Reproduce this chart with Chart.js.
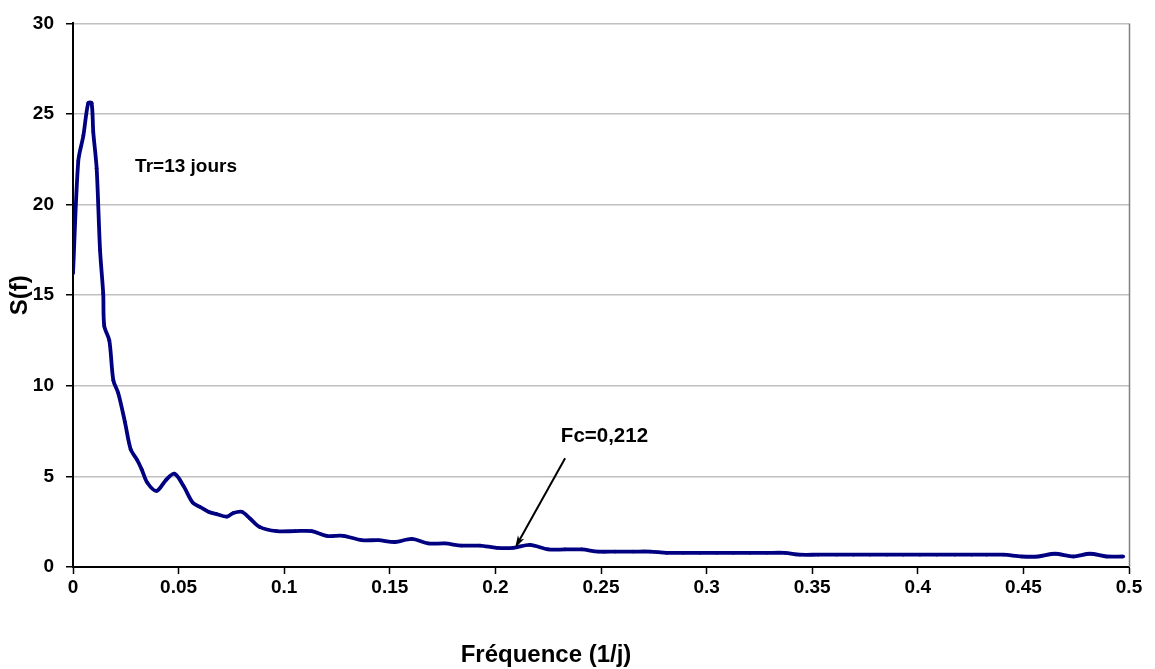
<!DOCTYPE html>
<html>
<head>
<meta charset="utf-8">
<script src="https://cdn.jsdelivr.net/npm/chart.js@4/dist/chart.umd.min.js"></script>
<style>
  html, body { margin: 0; padding: 0; background: #fff; }
  #wrap { width: 1155px; height: 669px; position: relative; }
</style>
</head>
<body>
<div id="wrap"><canvas id="spectre"></canvas></div>
<script>
// frequency (1/j) and spectral density S(f)
const freq = [
  0.000, 0.0025, 0.0049, 0.0072, 0.0088, 0.0096, 0.0112, 0.0128, 0.0143, 0.0148,
  0.0172, 0.0191, 0.0214, 0.0246, 0.0273, 0.0304, 0.0325, 0.0352, 0.0396, 0.0440,
  0.0480, 0.0522, 0.0567, 0.0601, 0.0641, 0.0680, 0.0728, 0.0759, 0.0799, 0.0838,
  0.0885, 0.0964, 0.1051, 0.1130, 0.1201, 0.1280, 0.1367, 0.1446, 0.1525, 0.1604,
  0.1682, 0.1761, 0.1840, 0.1927, 0.2006, 0.2085, 0.2164, 0.2250, 0.2330, 0.2409,
  0.2487, 0.2566, 0.2653, 0.2732, 0.2811, 0.2890, 0.2969, 0.3048, 0.3126, 0.3205,
  0.3284, 0.3371, 0.3442, 0.3529, 0.3616, 0.3695, 0.3774, 0.3853, 0.3931, 0.4010,
  0.4089, 0.4176, 0.4255, 0.4326, 0.4405, 0.4492, 0.4570, 0.4649, 0.4736, 0.4815,
  0.4894, 0.4973
];
const sf = [
  16.2, 22.4, 23.8, 25.6, 25.6, 24.0, 22.0, 17.5, 15.1, 13.3,
  12.5, 10.3, 9.6, 8.0, 6.5, 5.9, 5.4, 4.65, 4.2, 4.8,
  5.15, 4.5, 3.55, 3.32, 3.05, 2.92, 2.78, 2.98, 3.05, 2.68,
  2.2, 1.98, 1.98, 1.98, 1.72, 1.72, 1.48, 1.48, 1.38, 1.55,
  1.3, 1.3, 1.18, 1.18, 1.06, 1.06, 1.22, 0.97, 0.97, 0.97,
  0.85, 0.85, 0.85, 0.85, 0.78, 0.78, 0.78, 0.78, 0.78, 0.78,
  0.78, 0.78, 0.68, 0.68, 0.68, 0.68, 0.68, 0.68, 0.68, 0.68,
  0.68, 0.68, 0.68, 0.68, 0.68, 0.58, 0.58, 0.73, 0.58, 0.73,
  0.58, 0.58
];
const xTickLabels = ['0', '0.05', '0.1', '0.15', '0.2', '0.25', '0.3', '0.35', '0.4', '0.45', '0.5'];
const yTickLabels = ['0', '5', '10', '15', '20', '25', '30'];

// annotations, in data units
const noteTr = { text: 'Tr=13 jours', x: 0.0294, y: 22.1, size: 19 };
const noteFc = { text: 'Fc=0,212', x: 0.2310, y: 7.2, size: 20.5 };
const arrowFc = { x1: 0.2330, y1: 6.0, x2: 0.2093, y2: 1.05 };

const FONT = '"Liberation Sans", Arial, sans-serif';

const points = freq.map((f, i) => ({ x: f, y: sf[i] }));

const extras = {
  id: 'extras',
  beforeDatasetsDraw(chart) {
    const { ctx, chartArea: a } = chart;
    ctx.save();
    ctx.strokeStyle = '#808080';
    ctx.lineWidth = 1.5;
    ctx.beginPath();
    ctx.moveTo(a.right + 0.5, a.top);
    ctx.lineTo(a.right + 0.5, a.bottom);
    ctx.stroke();
    ctx.restore();
  },
  afterDraw(chart) {
    const { ctx } = chart;
    const xs = chart.scales.x, ys = chart.scales.y;
    ctx.save();
    ctx.fillStyle = '#000';
    ctx.textAlign = 'left';
    ctx.textBaseline = 'middle';
    [noteTr, noteFc].forEach(n => {
      ctx.font = 'bold ' + n.size + 'px ' + FONT;
      ctx.fillText(n.text, xs.getPixelForValue(n.x), ys.getPixelForValue(n.y));
    });

    // arrow
    const x1 = xs.getPixelForValue(arrowFc.x1), y1 = ys.getPixelForValue(arrowFc.y1);
    const x2 = xs.getPixelForValue(arrowFc.x2), y2 = ys.getPixelForValue(arrowFc.y2);
    const ang = Math.atan2(y2 - y1, x2 - x1);
    const head = 13, spread = 0.28;
    ctx.strokeStyle = '#000';
    ctx.lineWidth = 2;
    ctx.beginPath();
    ctx.moveTo(x1, y1);
    ctx.lineTo(x2 - Math.cos(ang) * 6, y2 - Math.sin(ang) * 6);
    ctx.stroke();
    ctx.beginPath();
    ctx.moveTo(x2, y2);
    ctx.lineTo(x2 - head * Math.cos(ang - spread), y2 - head * Math.sin(ang - spread));
    ctx.lineTo(x2 - head * 0.7 * Math.cos(ang), y2 - head * 0.7 * Math.sin(ang));
    ctx.lineTo(x2 - head * Math.cos(ang + spread), y2 - head * Math.sin(ang + spread));
    ctx.closePath();
    ctx.fill();

    // x axis title (Excel centres it a bit left of the plot middle)
    ctx.font = 'bold 24px ' + FONT;
    ctx.textAlign = 'center';
    ctx.fillText('Fréquence (1/j)', 546, 655);
    ctx.restore();
  }
};

new Chart(document.getElementById('spectre'), {
  type: 'line',
  data: {
    datasets: [{
      label: 'S(f)',
      data: points,
      borderColor: '#000080',
      backgroundColor: '#000080',
      borderWidth: 3.8,
      pointRadius: 1.8,
      pointBorderWidth: 0,
      pointBackgroundColor: '#000080',
      tension: 0.3,
      fill: false
    }]
  },
  options: {
    responsive: true,
    maintainAspectRatio: false,
    animation: false,
    layout: { padding: { left: 0, right: 26, top: 22, bottom: 0 } },
    plugins: { legend: { display: false }, tooltip: { enabled: false } },
    scales: {
      x: {
        type: 'linear',
        min: 0,
        max: 0.5,
        ticks: {
          stepSize: 0.05,
          color: '#000',
          padding: 2,
          maxRotation: 0,
          font: { family: FONT, size: 19, weight: 'bold' },
          callback: (v, i) => xTickLabels[i]
        },
        grid: { drawOnChartArea: false, drawTicks: true, tickLength: 7, tickColor: '#000', tickWidth: 1.5 },
        border: { color: '#000', width: 2 },
        afterFit: s => { s.height = 102; }
      },
      y: {
        min: 0,
        max: 30,
        ticks: {
          stepSize: 5,
          color: '#000',
          padding: 12,
          font: { family: FONT, size: 19, weight: 'bold' },
          callback: (v, i) => yTickLabels[i]
        },
        grid: { color: '#c0c0c0', lineWidth: 1.5, tickLength: 7, tickColor: '#000', tickWidth: 1.5 },
        border: { color: '#000', width: 2 },
        title: {
          display: true,
          text: 'S(f)',
          color: '#000',
          padding: { top: 6, bottom: 0 },
          font: { family: FONT, size: 24, weight: 'bold' }
        },
        afterFit: s => { s.width = 73; }
      }
    }
  },
  plugins: [extras]
});
</script>
</body>
</html>
